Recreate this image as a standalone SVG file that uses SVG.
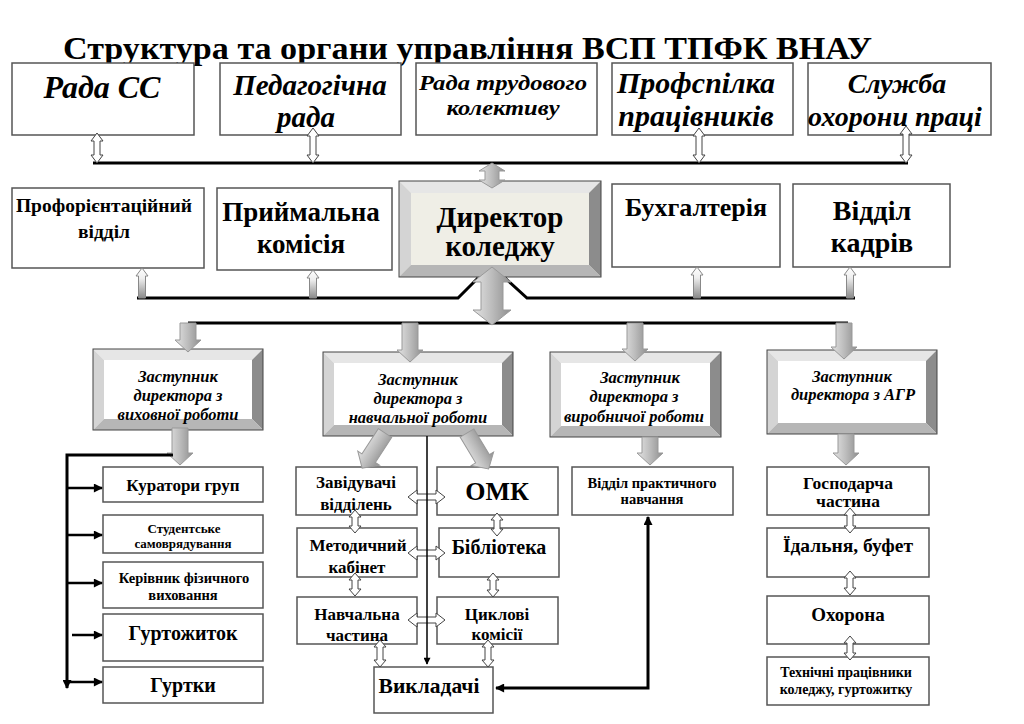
<svg xmlns="http://www.w3.org/2000/svg" width="1024" height="724" viewBox="0 0 1024 724">
<style>
text{font-family:"Liberation Serif","Times New Roman",serif;font-weight:bold;fill:#000;text-anchor:middle}
.it{font-style:italic}
.box{fill:#fff;stroke:#555;stroke-width:1.5}
.line{fill:none;stroke:#000;stroke-width:3}
.thin{fill:none;stroke:#000;stroke-width:1.5}
.hollow{fill:#fff;stroke:#444;stroke-width:1}
.garr{fill:url(#gh);stroke:#999;stroke-width:1}
.uarr{fill:url(#gv);stroke:#888;stroke-width:1}
.bt{fill:#e6e6e6}.bl{fill:#d4d4d4}.br{fill:#8c8c8c}.bb{fill:#b6b6b6}
.edge{fill:none;stroke:#444;stroke-width:1}
</style>
<defs>
<linearGradient id="gh" x1="0" y1="0" x2="1" y2="0">
<stop offset="0" stop-color="#e4e4e4"/><stop offset="0.5" stop-color="#bcbcbc"/><stop offset="1" stop-color="#8e8e8e"/>
</linearGradient>
<linearGradient id="gv" x1="0" y1="0" x2="0" y2="1">
<stop offset="0" stop-color="#ffffff"/><stop offset="0.35" stop-color="#eeeeee"/><stop offset="1" stop-color="#8a8a8a"/>
</linearGradient>
<marker id="ah" viewBox="0 0 10 10" refX="9" refY="5" markerWidth="10" markerHeight="9" markerUnits="userSpaceOnUse" orient="auto-start-reverse">
<path d="M0,0 L10,5 L0,10 z" fill="#000"/>
</marker>
<marker id="ahs" viewBox="0 0 10 10" refX="9" refY="5" markerWidth="8" markerHeight="7" markerUnits="userSpaceOnUse" orient="auto">
<path d="M0,0 L10,5 L0,10 z" fill="#000"/>
</marker>
</defs>
<rect width="1024" height="724" fill="#fff"/>

<text id="title" x="63" y="59" style="text-anchor:start;font-size:31px" textLength="809" lengthAdjust="spacingAndGlyphs">Структура та органи управління ВСП ТПФК ВНАУ</text>

<!-- top row -->
<g id="rada-ss"><rect class="box" x="12" y="63" width="182" height="72"/><text class="it" x="102" y="98" style="font-size:32px">Рада СС</text></g>
<g id="ped-rada"><rect class="box" x="220" y="63" width="181" height="72"/><text class="it" x="310" y="95" style="font-size:29px">Педагогічна</text><text class="it" x="306" y="127" style="font-size:29px">рада</text></g>
<g id="rada-tk"><rect class="box" x="416" y="63" width="181" height="72"/><text class="it" x="503" y="90" style="font-size:21px" textLength="168" lengthAdjust="spacingAndGlyphs">Рада трудового</text><text class="it" x="503" y="115" style="font-size:21px" textLength="113" lengthAdjust="spacingAndGlyphs">колективу</text></g>
<g id="profspilka"><rect class="box" x="612" y="63" width="181" height="72"/><text class="it" x="696" y="93" style="font-size:30px">Профспілка</text><text class="it" x="696" y="126" style="font-size:30px">працівників</text></g>
<g id="sluzhba"><rect class="box" x="808" y="63" width="183" height="72"/><text class="it" x="897" y="93" style="font-size:28px">Служба</text><text class="it" x="895" y="126" style="font-size:28px">охорони праці</text></g>

<!-- middle row -->
<g id="proforient"><rect class="box" x="12" y="188" width="192" height="80"/><text x="104" y="212" style="font-size:19.5px">Профорієнтаційний</text><text x="104" y="238" style="font-size:19.5px">відділ</text></g>
<g id="pryimalna"><rect class="box" x="217" y="188" width="175" height="82"/><text x="301" y="221" style="font-size:27px">Приймальна</text><text x="301" y="253" style="font-size:27px">комісія</text></g>
<g id="director">
<rect x="399" y="181" width="202" height="96" fill="#efeee6"/>
<polygon class="bt" points="399,181 601,181 589,193 411,193"/>
<polygon class="bl" points="399,181 411,193 411,265 399,277"/>
<polygon class="br" points="601,181 601,277 589,265 589,193"/>
<polygon class="bb" points="399,277 411,265 589,265 601,277"/>
<rect class="edge" x="399" y="181" width="202" height="96"/>
<text x="500" y="227" style="font-size:29px">Директор</text><text x="500" y="256" style="font-size:29px">коледжу</text>
</g>
<g id="buhgalteria"><rect class="box" x="612" y="184" width="168" height="83"/><text x="696" y="216" style="font-size:26px">Бухгалтерія</text></g>
<g id="kadry"><rect class="box" x="793" y="184" width="157" height="83"/><text x="872" y="220" style="font-size:28px">Відділ</text><text x="872" y="252" style="font-size:28px">кадрів</text></g>

<!-- deputies -->
<g id="dep-vykh">
<rect x="93" y="349" width="170" height="81" fill="#fff"/>
<polygon class="bt" points="93,349 263,349 252,360 104,360"/>
<polygon class="bl" points="93,349 104,360 104,419 93,430"/>
<polygon class="br" points="263,349 263,430 252,419 252,360"/>
<polygon class="bb" points="93,430 104,419 252,419 263,430"/>
<rect class="edge" x="93" y="349" width="170" height="81"/>
<text class="it" x="178" y="382" style="font-size:16.5px">Заступник</text><text class="it" x="178" y="401" style="font-size:16.5px">директора з</text><text class="it" x="178" y="420" style="font-size:16.5px">виховної роботи</text>
</g>
<g id="dep-navch">
<rect x="323" y="352" width="190" height="84" fill="#fff"/>
<polygon class="bt" points="323,352 513,352 502,363 334,363"/>
<polygon class="bl" points="323,352 334,363 334,425 323,436"/>
<polygon class="br" points="513,352 513,436 502,425 502,363"/>
<polygon class="bb" points="323,436 334,425 502,425 513,436"/>
<rect class="edge" x="323" y="352" width="190" height="84"/>
<text class="it" x="418" y="385" style="font-size:16.5px">Заступник</text><text class="it" x="418" y="404" style="font-size:16.5px">директора з</text><text class="it" x="418" y="423" style="font-size:16.5px">навчальної роботи</text>
</g>
<g id="dep-vyrob">
<rect x="550" y="352" width="171" height="85" fill="#fff"/>
<polygon class="bt" points="550,352 721,352 710,363 561,363"/>
<polygon class="bl" points="550,352 561,363 561,426 550,437"/>
<polygon class="br" points="721,352 721,437 710,426 710,363"/>
<polygon class="bb" points="550,437 561,426 710,426 721,437"/>
<rect class="edge" x="550" y="352" width="171" height="85"/>
<text class="it" x="640" y="383" style="font-size:16.5px">Заступник</text><text class="it" x="634" y="402" style="font-size:16.5px">директора з</text><text class="it" x="634" y="422" style="font-size:16.5px">виробничої роботи</text>
</g>
<g id="dep-agr">
<rect x="767" y="350" width="170" height="84" fill="#fff"/>
<polygon class="bt" points="767,350 937,350 926,361 778,361"/>
<polygon class="bl" points="767,350 778,361 778,423 767,434"/>
<polygon class="br" points="937,350 937,434 926,423 926,361"/>
<polygon class="bb" points="767,434 778,423 926,423 937,434"/>
<rect class="edge" x="767" y="350" width="170" height="84"/>
<text class="it" x="852" y="382" style="font-size:16.5px">Заступник</text><text class="it" x="853" y="400" style="font-size:16.5px">директора з АГР</text>
</g>

<!-- bottom left -->
<g id="kuratory"><rect class="box" x="103" y="467" width="160" height="35"/><text x="183" y="491" style="font-size:17px">Куратори груп</text></g>
<g id="stud"><rect class="box" x="103" y="515" width="160" height="38"/><text x="184" y="533" style="font-size:13px">Студентське</text><text x="183" y="548" style="font-size:13px">самоврядування</text></g>
<g id="kerivnyk"><rect class="box" x="103" y="562" width="160" height="46"/><text x="184" y="583" style="font-size:14.5px">Керівник фізичного</text><text x="183" y="600" style="font-size:14.5px">виховання</text></g>
<g id="gurtozhytok"><rect class="box" x="103" y="614" width="160" height="47"/><text x="183" y="640" style="font-size:20px">Гуртожиток</text></g>
<g id="gurtky"><rect class="box" x="103" y="667" width="160" height="36"/><text x="183" y="692" style="font-size:20px">Гуртки</text></g>

<!-- bottom middle -->
<g id="zaviduvachi"><rect class="box" x="296" y="467" width="121" height="48"/><text x="356" y="488" style="font-size:17px">Завідувачі</text><text x="356" y="510" style="font-size:17px">відділень</text></g>
<g id="omk"><rect class="box" x="437" y="467" width="121" height="48"/><text x="497" y="500" style="font-size:26px">ОМК</text></g>
<g id="metod"><rect class="box" x="297" y="528" width="120" height="49"/><text x="358" y="551" style="font-size:17px">Методичний</text><text x="357" y="573" style="font-size:17px">кабінет</text></g>
<g id="biblioteka"><rect class="box" x="439" y="528" width="120" height="49"/><text x="499" y="554" style="font-size:20px">Бібліотека</text></g>
<g id="navch-chast"><rect class="box" x="297" y="597" width="120" height="47"/><text x="357" y="620" style="font-size:17px">Навчальна</text><text x="357" y="641" style="font-size:17px">частина</text></g>
<g id="tsykl"><rect class="box" x="437" y="597" width="121" height="47"/><text x="497" y="620" style="font-size:17px">Циклові</text><text x="497" y="640" style="font-size:17px">комісії</text></g>
<g id="vykladachi"><rect class="box" x="374" y="667" width="119" height="46"/><text x="429" y="693" style="font-size:21.5px">Викладачі</text></g>

<!-- bottom right -->
<g id="praktyka"><rect class="box" x="572" y="467" width="161" height="48"/><text x="652" y="488" style="font-size:14.5px">Відділ практичного</text><text x="652" y="504" style="font-size:14.5px">навчання</text></g>
<g id="gospodarcha"><rect class="box" x="767" y="467" width="162" height="48"/><text x="848" y="489" style="font-size:17.5px">Господарча</text><text x="848" y="507" style="font-size:17.5px">частина</text></g>
<g id="idalnia"><rect class="box" x="767" y="528" width="162" height="49"/><text x="848" y="552" style="font-size:19.5px">Їдальня, буфет</text></g>
<g id="okhorona"><rect class="box" x="767" y="596" width="162" height="48"/><text x="848" y="621" style="font-size:19px">Охорона</text></g>
<g id="tekhnichni"><rect class="box" x="767" y="657" width="162" height="48"/><text x="846" y="677" style="font-size:14px">Технічні працівники</text><text x="846" y="694" style="font-size:14px">коледжу, гуртожитку</text></g>

<g id="connectors">
<!-- lines -->
<path class="line" d="M93,163 H908"/>
<path class="line" d="M137,298 H458 L478,278"/>
<path class="line" d="M505,278 L527,298 H855"/>
<path class="line" d="M188,323 H848"/>
<!-- top hollow arrows -->
<path class="hollow" d="M97,133 l6,8 h-3 V155 h3 l-6,8 l-6,-8 h3 V141 h-3 z"/>
<path class="hollow" d="M313,128 l6,8 h-3 V155 h3 l-6,8 l-6,-8 h3 V136 h-3 z"/>
<path class="hollow" d="M699,128 l6,8 h-3 V155 h3 l-6,8 l-6,-8 h3 V136 h-3 z"/>
<path class="hollow" d="M906,126 l6,8 h-3 V155 h3 l-6,8 l-6,-8 h3 V134 h-3 z"/>
<!-- big gray arrows at director -->
<path class="garr" d="M492,163 l13,8 h-6 v9 h6 l-13,8 l-13,-8 h6 v-9 h-6 z"/>
<path class="garr" d="M492,267 l19,15 h-8 V310 h8 l-19,15 l-19,-15 h8 V282 h-8 z"/>
<!-- up arrows to middle row -->
<path class="uarr" d="M142,268 l6,8 h-2.5 V298 h-7 V276 h-2.5 z"/>
<path class="uarr" d="M313,270 l6,8 h-2.5 V298 h-7 V278 h-2.5 z"/>
<path class="uarr" d="M697,267 l6,8 h-2.5 V298 h-7 V275 h-2.5 z"/>
<path class="uarr" d="M850,267 l6,8 h-2.5 V298 h-7 V275 h-2.5 z"/>
<!-- down arrows to deputies -->
<path class="garr" d="M180,323 h16 V340 h5 l-13,12 l-13,-12 h5 z"/>
<path class="garr" d="M402,323 h16 V350 h5 l-13,12 l-13,-12 h5 z"/>
<path class="garr" d="M627,323 h16 V349 h5 l-13,12 l-13,-12 h5 z"/>
<path class="garr" d="M836,323 h16 V347 h5 l-13,12 l-13,-12 h5 z"/>
<!-- down arrows from deputies -->
<path class="garr" d="M172,428 h16 V453 h5 l-13,12 l-13,-12 h5 z"/>
<path class="garr" d="M642,437 h16 V453 h5 l-13,12 l-13,-12 h5 z"/>
<path class="garr" d="M838,434 h16 V453 h5 l-13,12 l-13,-12 h5 z"/>
<path class="garr" transform="translate(385,433) rotate(33)" d="M-8,0 h16 V30 h5 l-13,12 l-13,-12 h5 z"/>
<path class="garr" transform="translate(467,433) rotate(-31)" d="M-8,0 h16 V30 h5 l-13,12 l-13,-12 h5 z"/>
<!-- left column -->
<path class="line" d="M173,455 H67 V688" marker-end="url(#ah)"/>
<path class="line" style="stroke-width:2.5" d="M67,488 H102" marker-end="url(#ah)"/>
<path class="line" style="stroke-width:2.5" d="M67,535 H102" marker-end="url(#ah)"/>
<path class="line" style="stroke-width:2.5" d="M67,583 H102" marker-end="url(#ah)"/>
<path class="line" style="stroke-width:2.5" d="M72,635 H102" marker-end="url(#ah)"/>
<path class="line" style="stroke-width:2.5" d="M67,682 H102" marker-end="url(#ah)"/>
<!-- middle hollow arrows -->
<path class="hollow" d="M408,497 l9,-7 v4 h19 v-4 l9,7 l-9,7 v-4 h-19 v4 z"/>
<path class="hollow" d="M408,553 l9,-7 v4 h19 v-4 l9,7 l-9,7 v-4 h-19 v4 z"/>
<path class="hollow" d="M408,620 l9,-7 v4 h19 v-4 l9,7 l-9,7 v-4 h-19 v4 z"/>
<path class="hollow" d="M355,510 l6,7 h-3 V526 h3 l-6,7 l-6,-7 h3 V517 h-3 z"/>
<path class="hollow" d="M355,573 l6,7 h-3 V589 h3 l-6,7 l-6,-7 h3 V580 h-3 z"/>
<path class="hollow" d="M497,513 l6,7 h-3 V529 h3 l-6,7 l-6,-7 h3 V520 h-3 z"/>
<path class="hollow" d="M493,573 l6,7 h-3 V590 h3 l-6,7 l-6,-7 h3 V580 h-3 z"/>
<path class="hollow" d="M380,640 l6,7 h-3 V660 h3 l-6,7 l-6,-7 h3 V647 h-3 z"/>
<path class="hollow" d="M488,640 l6,7 h-3 V660 h3 l-6,7 l-6,-7 h3 V647 h-3 z"/>
<path class="thin" d="M427,436 V664" marker-end="url(#ahs)"/>
<!-- practice to teachers -->
<path class="line" d="M496,688 H648 V517" marker-start="url(#ah)" marker-end="url(#ah)"/>
<!-- right hollow arrows -->
<path class="hollow" d="M850,508 l6,7 h-3 V526 h3 l-6,7 l-6,-7 h3 V515 h-3 z"/>
<path class="hollow" d="M850,571 l6,7 h-3 V588 h3 l-6,7 l-6,-7 h3 V578 h-3 z"/>
<path class="hollow" d="M850,636 l6,7 h-3 V653 h3 l-6,7 l-6,-7 h3 V643 h-3 z"/>
</g>
</svg>
